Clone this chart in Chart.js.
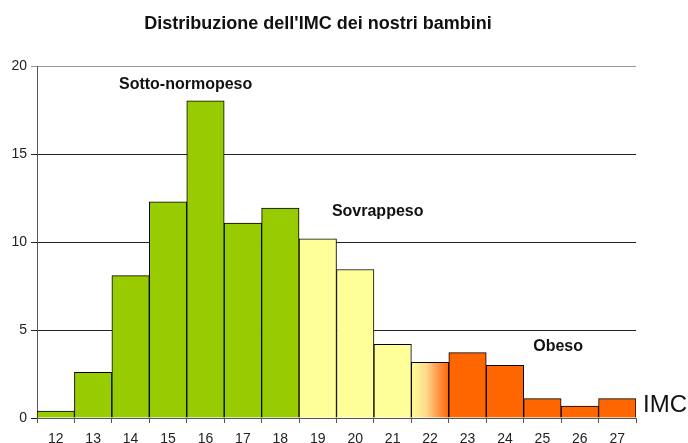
<!DOCTYPE html>
<html>
<head>
<meta charset="utf-8">
<script src="https://cdn.jsdelivr.net/npm/chart.js@4/dist/chart.umd.min.js"></script>
<style>
  html, body { margin: 0; padding: 0; background: #fff; }
  #wrap { position: relative; width: 688px; height: 443px; }
</style>
</head>
<body>
<div id="wrap"><canvas id="chart"></canvas></div>
<script>
// IMC classes on the x axis
const imc = ['12', '13', '14', '15', '16', '17', '18', '19', '20', '21', '22', '23', '24', '25', '26', '27'];
// percentage of children per class
const percent = [0.4, 2.6, 8.1, 12.3, 18.05, 11.1, 11.95, 10.2, 8.45, 4.2, 3.17, 3.72, 3.0, 1.1, 0.68, 1.1];
// weight group of each class
const groups = ['g', 'g', 'g', 'g', 'g', 'g', 'g', 'y', 'y', 'y', 'mix', 'o', 'o', 'o', 'o', 'o'];
const yTicks = [0, 5, 10, 15, 20];

// group labels: text, category position, value position
const groupLabels = [
  { text: 'Sotto-normopeso', at: 3.47, value: 18.95 },
  { text: 'Sovrappeso', at: 8.6, value: 11.75 },
  { text: 'Obeso', at: 13.42, value: 4.06 }
];

const colors = { g: '#99CC00', y: '#FFFF99', o: '#FF6600' };

function barColor(context) {
  const grp = groups[context.dataIndex];
  if (grp !== 'mix') return colors[grp];
  const chart = context.chart;
  const x = chart.scales.x;
  if (!chart.chartArea || !x) return '#FFCC66';
  const w = (chart.chartArea.right - chart.chartArea.left) / imc.length;
  const cx = x.getPixelForValue(context.dataIndex);
  const grad = chart.ctx.createLinearGradient(cx - w / 2, 0, cx + w / 2, 0);
  grad.addColorStop(0, '#FFFF99');
  grad.addColorStop(0.4, '#FFD98A');
  grad.addColorStop(0.75, '#FF9040');
  grad.addColorStop(1, '#FF6600');
  return grad;
}

const textPlugin = {
  id: 'textPlugin',
  afterDraw(chart) {
    const ctx = chart.ctx;
    const x = chart.scales.x;
    const y = chart.scales.y;
    ctx.save();
    ctx.fillStyle = '#111';
    ctx.font = 'bold 16px "Liberation Sans", Arial, sans-serif';
    ctx.textAlign = 'center';
    ctx.textBaseline = 'middle';
    groupLabels.forEach(l => {
      ctx.fillText(l.text, x.getPixelForValue(l.at), y.getPixelForValue(l.value));
    });
    ctx.font = '24px "Liberation Sans", Arial, sans-serif';
    ctx.textAlign = 'left';
    ctx.fillText('IMC', chart.chartArea.right + 7, y.getPixelForValue(0.7));
    ctx.restore();
  }
};

new Chart(document.getElementById('chart'), {
  type: 'bar',
  data: {
    labels: imc,
    datasets: [{
      data: percent,
      backgroundColor: barColor,
      borderColor: '#000',
      borderWidth: 1,
      barPercentage: 1,
      categoryPercentage: 1
    }]
  },
  options: {
    responsive: true,
    maintainAspectRatio: false,
    animation: false,
    layout: { padding: { right: 52, left: 0, bottom: 0 } },
    plugins: {
      legend: { display: false },
      tooltip: { enabled: false },
      title: {
        display: true,
        text: "Distribuzione dell'IMC dei nostri bambini",
        color: '#111',
        font: { family: '"Liberation Sans", Arial, sans-serif', size: 18, weight: 'bold' },
        padding: { top: 13, bottom: 32 }
      }
    },
    scales: {
      x: {
        offset: true,
        grid: { offset: true, drawOnChartArea: false, drawTicks: true, tickLength: 5, color: '#555' },
        border: { color: '#555', width: 1 },
        ticks: {
          color: '#222', padding: 8, maxRotation: 0, autoSkip: false,
          font: { family: '"Liberation Sans", Arial, sans-serif', size: 14 }
        },
        afterFit(scale) { scale.height = 25; }
      },
      y: {
        min: 0,
        max: 20,
        afterBuildTicks(scale) { scale.ticks = yTicks.map(v => ({ value: v })); },
        grid: {
          color: ctx => (ctx.tick && ctx.tick.value === 20 ? '#999' : '#222'),
          tickLength: 6,
          drawTicks: true
        },
        border: { color: '#555', width: 1 },
        ticks: {
          color: '#222', padding: 4,
          font: { family: '"Liberation Sans", Arial, sans-serif', size: 14 }
        },
        afterFit(scale) { scale.width = 37; }
      }
    }
  },
  plugins: [textPlugin]
});
</script>
</body>
</html>
